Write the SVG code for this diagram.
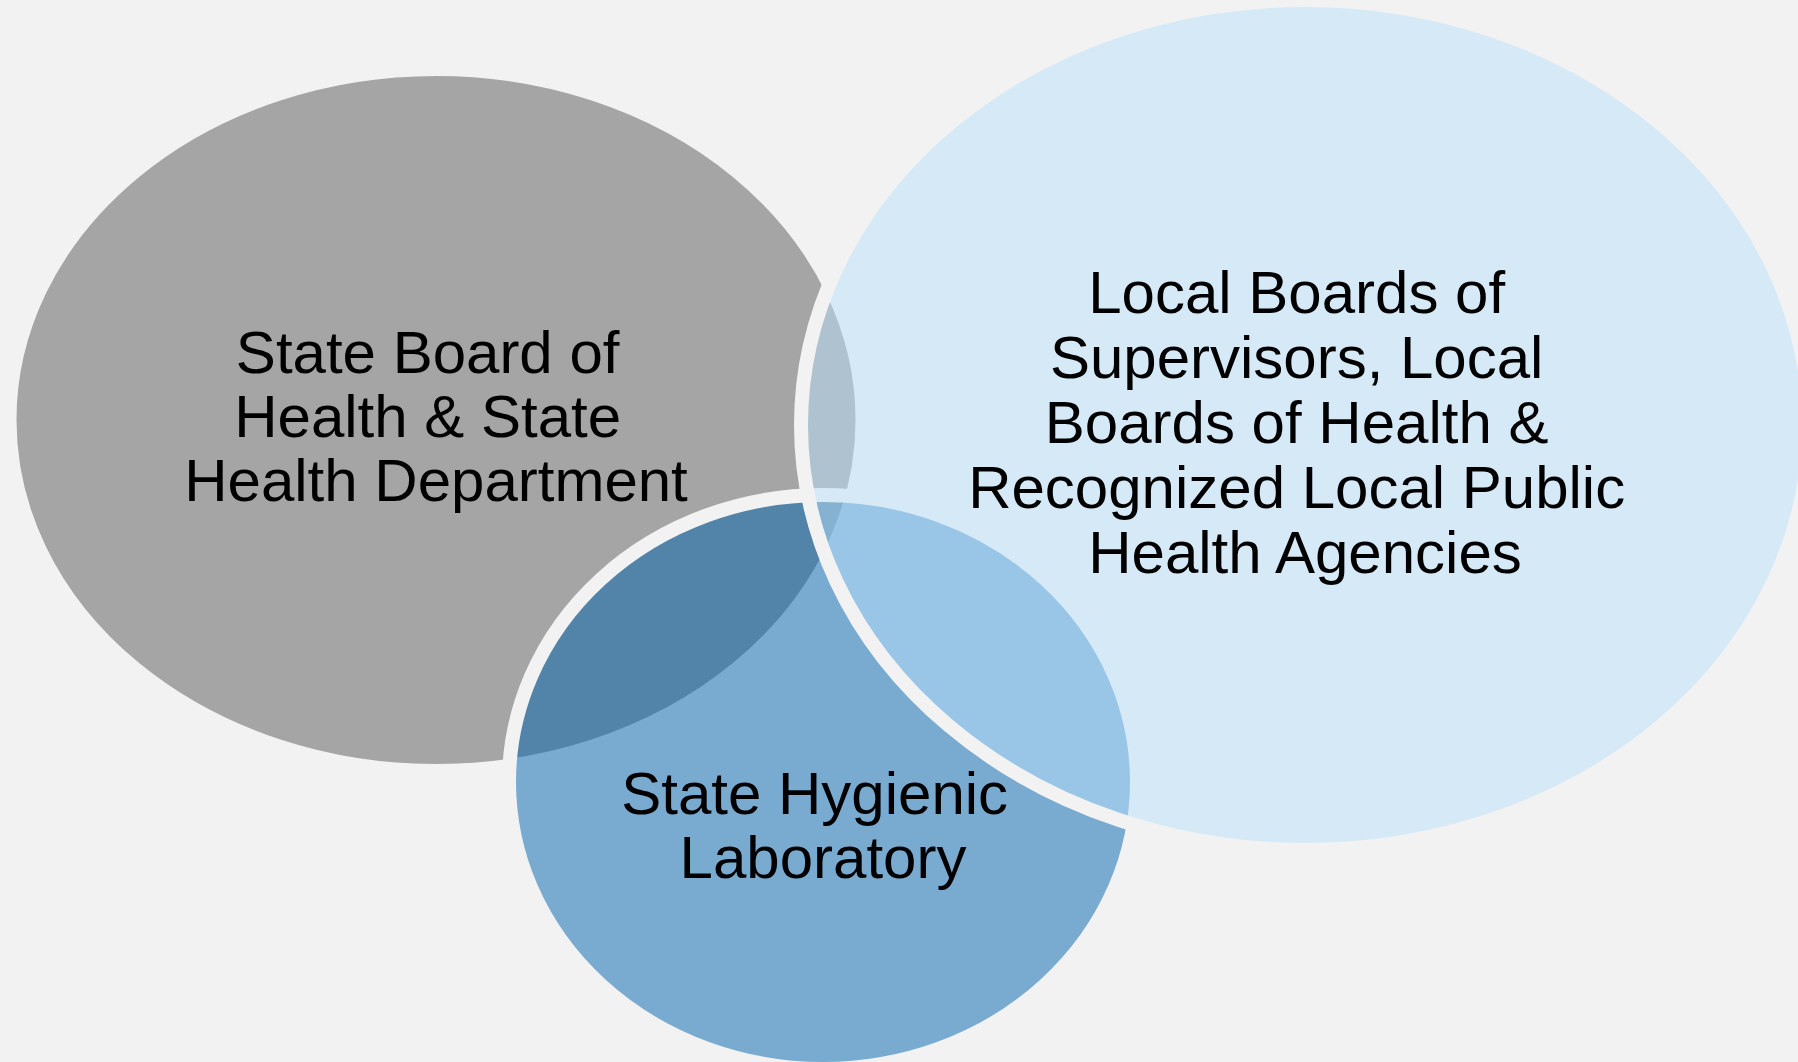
<svg xmlns="http://www.w3.org/2000/svg" width="1798" height="1062" viewBox="0 0 1798 1062">
  <style>
    .shape { stroke: #F2F2F2; stroke-width: 14; }
    .label { font-family: "Liberation Sans", Arial, sans-serif; font-size: 60px; fill: #000000; text-anchor: middle; }
  </style>
  <rect x="0" y="0" width="1798" height="1062" fill="#F2F2F2"/>
  <g id="node-state-board">
    <ellipse class="shape" cx="436" cy="420" rx="426.5" ry="351" fill="#A5A5A5"/>
    <text class="label" x="436">
      <tspan x="436" y="373">State Board of</tspan>
      <tspan x="436" y="437">Health &amp; State</tspan>
      <tspan x="436" y="501">Health Department</tspan>
    </text>
  </g>
  <g id="node-hygienic-lab">
    <ellipse class="shape" cx="823" cy="782" rx="314" ry="287" fill="rgb(0,100,174)" fill-opacity="0.5"/>
    <text class="label" x="823">
      <tspan x="823" y="814">State Hygienic</tspan>
      <tspan x="823" y="878">Laboratory</tspan>
    </text>
  </g>
  <g id="node-local-boards">
    <ellipse class="shape" cx="1305" cy="425" rx="504" ry="425" fill="rgb(186,224,252)" fill-opacity="0.5"/>
    <text class="label" x="1305">
      <tspan x="1305" y="313">Local Boards of</tspan>
      <tspan x="1305" y="378">Supervisors, Local</tspan>
      <tspan x="1305" y="443">Boards of Health &amp;</tspan>
      <tspan x="1305" y="508">Recognized Local Public</tspan>
      <tspan x="1305" y="573">Health Agencies</tspan>
    </text>
  </g>
</svg>
